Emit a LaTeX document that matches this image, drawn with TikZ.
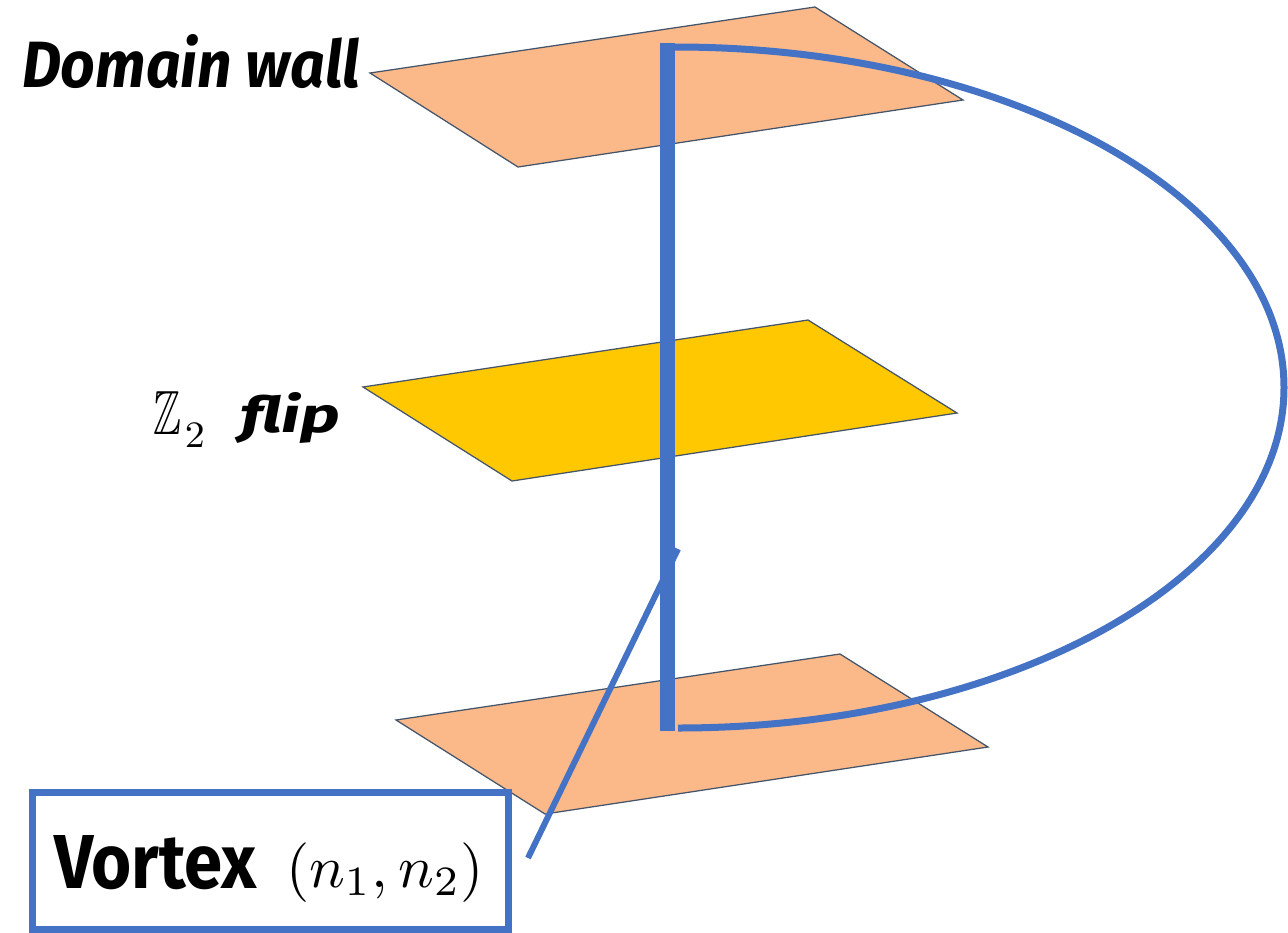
\documentclass[tikz,border=0pt]{standalone}
\usepackage{amssymb}
\usepackage{fontspec}
\newfontfamily\lblfont{Fira Sans}
\definecolor{wallorange}{HTML}{FBB98A}
\definecolor{flipyellow}{HTML}{FFC800}
\definecolor{lineblue}{HTML}{4472C4}
\definecolor{edgegray}{HTML}{44546A}
\tikzset{
  plane/.style={draw=edgegray, line width=0.025cm, line join=miter},
  lbl/.style={inner sep=0pt, outer sep=0pt, anchor=base west},
  stringline/.style={draw=lineblue, line width=0.3cm, line cap=butt},
  loopline/.style={draw=lineblue, line width=0.14cm},
  pointer/.style={draw=lineblue, line width=0.12cm},
  vbox/.style={draw=lineblue, fill=white, line width=0.14cm, inner sep=0pt,
    minimum width=9.53cm, minimum height=2.74cm}
}
\begin{document}
\begin{tikzpicture}[x=0.02cm, y=-0.02cm]
\useasboundingbox (0,0) rectangle (1288,933);
% planes
\filldraw[plane, fill=wallorange] (370,73) -- (815,7) -- (963,100) -- (518,167) -- cycle;
\filldraw[plane, fill=flipyellow] (363,387) -- (808,320) -- (957,413) -- (512,481) -- cycle;
\filldraw[plane, fill=wallorange] (396,720) -- (840,654) -- (988,747) -- (545,814) -- cycle;
% string coordinates
\coordinate (top) at (667.5,43);
\coordinate (bot) at (667.5,731);
\coordinate (loopstart) at (675,47);
\coordinate (loopright) at (1284,387.5);
\coordinate (loopend) at (678,728);
\draw[stringline] (top) -- (bot);
\draw[loopline] (loopstart) .. controls (1011.3,47) and (1284,199.4) .. (loopright)
  .. controls (1284,575.6) and (1011.3,728) .. (loopend);
% vortex box and labels
\node[vbox] (vortexbox) at (270.75,861) {};
\coordinate (ptrfoot) at (528,858);
\coordinate (ptrtip) at (678,549);
\draw[pointer] (ptrfoot) -- (ptrtip);
\node[lbl] (dwall) at (22,87) {\resizebox{6.76cm}{1.06cm}{\lblfont\bfseries\itshape Domain wall}};
\node[lbl] (ztwo) at (153,434) {\resizebox{0.56cm}{0.86cm}{$\mathbb{Z}$}\hspace{0.08cm}\raisebox{-0.26cm}{\resizebox{0.4cm}{0.48cm}{$2$}}};
\node[lbl] (flip) at (240,432) {\resizebox{2cm}{0.8cm}{\lblfont\bfseries\itshape flip}};
\node[lbl] (vortex) at (54,888) {\resizebox{4.06cm}{1.06cm}{\lblfont\bfseries Vortex}};
\node[lbl] (charges) at (286,887) {\resizebox{3.96cm}{!}{$(n_1,n_2)$}};
\end{tikzpicture}
\end{document}
